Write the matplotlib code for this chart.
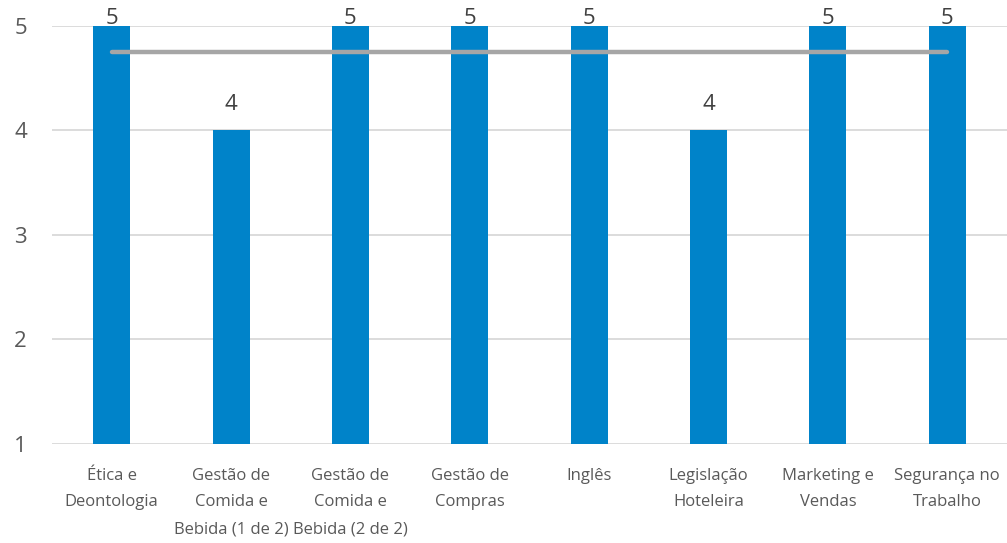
import matplotlib.pyplot as plt
import numpy as np

categories = [
    "Ética e\nDeontologia",
    "Gestão de\nComida e\nBebida (1 de 2)",
    "Gestão de\nComida e\nBebida (2 de 2)",
    "Gestão de\nCompras",
    "Inglês",
    "Legislação\nHoteleira",
    "Marketing e\nVendas",
    "Segurança no\nTrabalho",
]
scores = [5, 4, 5, 5, 5, 4, 5, 5]
yticks = [1, 2, 3, 4, 5]

plt.rcParams["font.family"] = ["Open Sans", "DejaVu Sans"]

fig = plt.figure(figsize=(10.07, 5.43), dpi=100)
ax = fig.add_axes([0.0516, 0.1823, 0.9484, 0.7699])

x = np.arange(len(categories))
ax.bar(x, scores, width=0.31, color="#0083C9", zorder=2)

# mean line across all courses
mean = np.mean(scores)
ax.plot([x[0], x[-1]], [mean, mean], color="#A6A6A6", lw=3.2,
        solid_capstyle="round", zorder=3)

# value labels sit above each bar, held inside the top of the plot
for xi, v in zip(x, scores):
    ax.text(xi, min(v + 0.15, 4.97), str(v), ha="center", va="bottom",
            fontsize=16, color="#404040", zorder=4)

ax.set_xlim(-0.5, len(categories) - 0.5)
ax.set_ylim(1, 5)
ax.set_yticks(yticks)
ax.set_xticks(x)
ax.set_xticklabels(categories, fontsize=12, color="#595959", linespacing=1.9)
ax.tick_params(axis="y", length=0, pad=18, labelsize=16, labelcolor="#595959")
ax.tick_params(axis="x", length=0, pad=17)
ax.grid(axis="y", color="#D9D9D9", lw=1.3, zorder=0)
for s in ax.spines.values():
    s.set_visible(False)

fig.savefig("out.png", dpi=100)
